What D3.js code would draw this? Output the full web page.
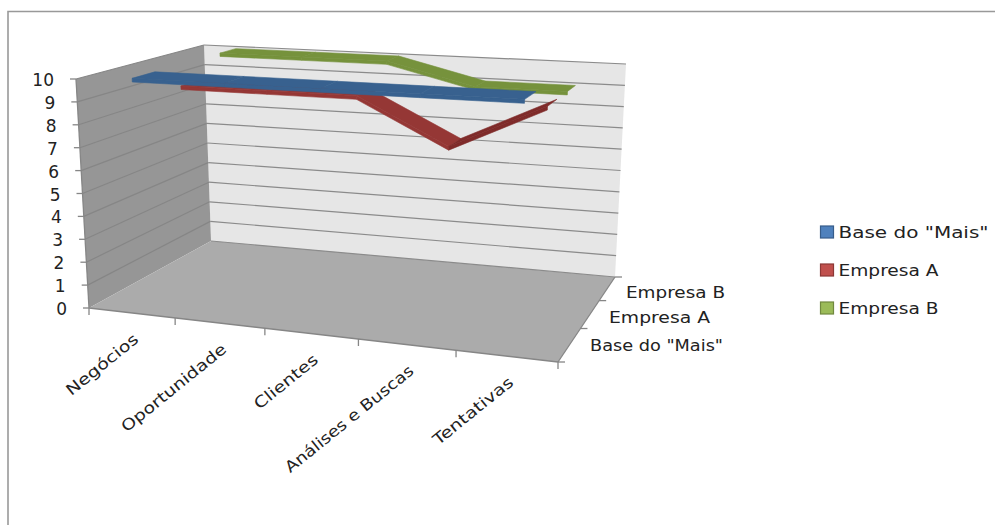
<!DOCTYPE html>
<html>
<head>
<meta charset="utf-8">
<script src="https://cdn.jsdelivr.net/npm/d3@7"></script>
<style>
  html, body { margin: 0; padding: 0; background: #fff; }
  svg { display: block; }
  text { font-family: "DejaVu Sans", sans-serif; fill: #222; }
</style>
</head>
<body>
<svg id="chart" width="995" height="525"></svg>
<script>
// Pseudo-3D line chart: three extruded ribbons standing in a perspective box.
const categories = ["Negócios", "Oportunidade", "Clientes", "Análises e Buscas", "Tentativas"];
const seriesNames = ["Base do \"Mais\"", "Empresa A", "Empresa B"];
const baseValues = [10, 10, 10, 10, 10];
const empresaA = [9, 9, 9, 7, 9];
const empresaB = [10, 10, 10, 9, 9];
const yTicks = [0, 1, 2, 3, 4, 5, 6, 7, 8, 9, 10];
const ribbonColors = ["#38618f", "#953735", "#76923c"];
const risingColors = ["#2e5480", "#7f2b2a", "#6a8534"];
const legendFill = ["#4f81bd", "#c0504d", "#9bbb59"];
const legendStroke = ["#385d8a", "#8c3836", "#71893f"];

// Corners of the plot box on screen: f/b = front/back, l/r = left/right, 0/1 = floor/top.
const box = {
  fl0: [89, 308], fl1: [76, 79], fr0: [558, 362], fr1: [574, 106],
  bl0: [211, 241], bl1: [204, 45], br0: [615, 277], br1: [626, 64]
};

// Foreshortening along the width and depth of the box.
const warpU = u => u * 0.9 / (1 - 0.1 * u);
const warpW = w => w * 1.3 / (1 + 0.3 * w);

const svg = d3.select("#chart");
const lerp = (a, b, t) => [a[0] + (b[0] - a[0]) * t, a[1] + (b[1] - a[1]) * t];

// Maps normalised box coordinates to the screen.
function project(u, v, w) {
  const uu = warpU(u), ww = warpW(w);
  const floorPt = lerp(lerp(box.fl0, box.fr0, uu), lerp(box.bl0, box.br0, uu), ww);
  const topPt = lerp(lerp(box.fl1, box.fr1, uu), lerp(box.bl1, box.br1, uu), ww);
  return lerp(floorPt, topPt, v);
}

const xBand = d3.scaleBand().domain(categories).range([0, 1]);
const xMid = c => xBand(c) + xBand.bandwidth() / 2;
const yScale = d3.scaleLinear().domain([0, 10]).range([0, 1]);
const zBand = d3.scaleBand().domain(seriesNames).range([0, 1]).paddingInner(0.55).paddingOuter(0.2);
const ribbonDrop = 0.016; // height of the ribbon's front face, as a share of the box height

const poly = pts => pts.map(p => p.join(",")).join(" ");
const segment = (a, b) => d3.line()([a, b]);

// Outer chart frame, open towards the page edges
svg.append("path").attr("d", "M8,525V11.5H995").attr("fill", "none")
  .attr("stroke", "#999").attr("stroke-width", 1.6);

// Walls and floor
svg.append("polygon").attr("fill", "#e6e6e6")
  .attr("points", poly([box.bl0, box.bl1, box.br1, box.br0]));
svg.append("polygon").attr("fill", "#969696")
  .attr("points", poly([box.fl0, box.fl1, box.bl1, box.bl0]));
svg.append("polygon").attr("fill", "#ababab")
  .attr("points", poly([box.fl0, box.bl0, box.br0, box.fr0]));

// Gridlines on the left and back walls
const grid = svg.append("g").attr("fill", "none").attr("stroke", "#8b8b8b").attr("stroke-width", 1.2);
yTicks.forEach(t => {
  const v = yScale(t);
  if (t > 0) grid.append("path").attr("d", segment(project(0, v, 0), project(0, v, 1))).attr("stroke", "#868686");
  grid.append("path").attr("d", segment(project(0, v, 1), project(1, v, 1)));
});

// Floor edges and tick marks
const axisLines = svg.append("g").attr("fill", "none").attr("stroke", "#868686").attr("stroke-width", 1.3);
axisLines.append("path").attr("d", segment(box.fl0, box.fr0));
axisLines.append("path").attr("d", segment(box.fr0, box.br0));
axisLines.append("path").attr("d", segment(box.fl0, box.fl1));
d3.range(categories.length + 1).forEach(i => {
  const p = project(i / categories.length, 0, 0);
  axisLines.append("path").attr("d", segment(p, [p[0], p[1] + 7]));
});
yTicks.forEach(t => {
  const p = project(0, yScale(t), 0);
  axisLines.append("path").attr("d", segment([p[0] - 6, p[1]], p));
});
d3.range(seriesNames.length + 1).forEach(i => {
  const p = project(1, 0, i / seriesNames.length);
  axisLines.append("path").attr("d", segment(p, [p[0] + 7, p[1]]));
});

// Ribbons, drawn back to front: a top surface plus a thin front face
[[empresaB, 2], [empresaA, 1], [baseValues, 0]].forEach(([vals, s]) => {
  const name = seriesNames[s];
  const w0 = zBand(name), w1 = zBand(name) + zBand.bandwidth();
  const g = svg.append("g");
  d3.pairs(categories.map((c, i) => [xMid(c), yScale(vals[i])])).forEach(([a, b]) => {
    const colour = b[1] > a[1] ? risingColors[s] : ribbonColors[s];
    g.append("polygon")
      .attr("fill", colour).attr("stroke", colour).attr("stroke-width", 0.6)
      .attr("points", poly([project(a[0], a[1] - ribbonDrop, w0), project(b[0], b[1] - ribbonDrop, w0),
                            project(b[0], b[1], w0), project(a[0], a[1], w0)]));
    g.append("polygon")
      .attr("fill", colour).attr("stroke", colour).attr("stroke-width", 0.6)
      .attr("points", poly([project(a[0], a[1], w0), project(b[0], b[1], w0),
                            project(b[0], b[1], w1), project(a[0], a[1], w1)]));
  });
});

// Value axis labels
svg.append("g").selectAll("text").data(yTicks).join("text")
  .attr("x", d => project(0, yScale(d), 0)[0] - 22)
  .attr("y", d => project(0, yScale(d), 0)[1] + 2)
  .attr("text-anchor", "end").attr("dominant-baseline", "middle")
  .attr("font-size", 17).text(d => d);

// Category labels, rotated and stretched to their run lengths
const categoryLengths = [88, 130, 77, 160, 98];
svg.append("g").selectAll("text").data(categories).join("text")
  .attr("text-anchor", "end").attr("font-size", 15.5)
  .attr("textLength", (c, i) => categoryLengths[i])
  .attr("lengthAdjust", "spacingAndGlyphs")
  .attr("transform", c => {
    const p = project(xMid(c), 0, 0);
    return `translate(${p[0] + 8},${p[1] + 28}) rotate(-39)`;
  })
  .text(c => c);

// Depth axis labels
const depthX = [590, 609, 626];
const depthY = [351, 323, 298];
const depthLengths = [133, 101, 99];
svg.append("g").selectAll("text").data(seriesNames).join("text")
  .attr("x", (d, i) => depthX[i]).attr("y", (d, i) => depthY[i])
  .attr("font-size", 15.5)
  .attr("textLength", (d, i) => depthLengths[i])
  .attr("lengthAdjust", "spacingAndGlyphs")
  .text(d => d);

// Legend
const legendLengths = [150, 100, 100];
const legend = svg.append("g").selectAll("g").data(seriesNames).join("g")
  .attr("transform", (d, i) => `translate(820.5,${232 + i * 38})`);
legend.append("rect").attr("x", 0).attr("y", -6).attr("width", 13).attr("height", 12)
  .attr("fill", (d, i) => legendFill[i]).attr("stroke", (d, i) => legendStroke[i]).attr("stroke-width", 1.2);
legend.append("text").attr("x", 18).attr("y", 6).attr("font-size", 16)
  .attr("textLength", (d, i) => legendLengths[i])
  .attr("lengthAdjust", "spacingAndGlyphs")
  .text(d => d);
</script>
</body>
</html>
